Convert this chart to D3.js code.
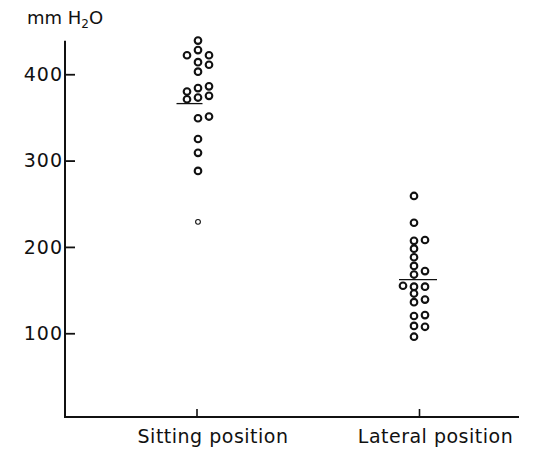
<!DOCTYPE html>
<html>
<head>
<meta charset="utf-8">
<script src="https://cdn.jsdelivr.net/npm/d3@7"></script>
<style>
  html, body { margin: 0; padding: 0; background: #fff; }
  svg { display: block; }
  text { font-family: "DejaVu Sans", sans-serif; fill: #111; }
</style>
</head>
<body>
<svg id="chart" width="533" height="451"></svg>
<script>
// ---- data (mm H2O) ----
const categories = ["Sitting position", "Lateral position"];
const yTicks = [100, 200, 300, 400];
const sittingValues = [439, 428, 422, 422, 414, 411, 403, 386, 384, 380, 375, 373, 371, 351, 349, 325, 309, 288, 229];
const sittingCols   = [0, 0, -1, 1, 0, 1, 0, 1, 0, -1, 1, 0, -1, 1, 0, 0, 0, 0, 0];
const lateralValues = [259, 228, 208, 207, 198, 188, 178, 172, 168, 155, 154, 154, 146, 139, 136, 121, 120, 108.5, 107.5, 96];
const lateralCols   = [0, 0, 1, 0, 0, 0, 0, 1, 0, -1, 0, 1, 0, 1, 0, 1, 0, 0, 1, 0];
const means = [366, 162];

const svg = d3.select("#chart");
const axisX = 65, axisY = 417;

const y = d3.scaleLinear().domain([3, 440]).range([axisY, 39.7]);
const x = d3.scalePoint().domain(categories).range([196.5, 419]);
const col = d3.scaleLinear().domain([-1, 1]).range([-11, 11]);
const groupShift = { "Sitting position": 1.5, "Lateral position": -5 };

// y axis
const gy = svg.append("g").attr("transform", `translate(${axisX},0)`)
  .call(d3.axisLeft(y).tickValues(yTicks).tickSizeInner(-10).tickSizeOuter(0).tickPadding(2));
gy.select(".domain").remove();
gy.selectAll(".tick line").attr("stroke", "#111").attr("stroke-width", 1.8);
gy.selectAll(".tick text").attr("font-size", 19).attr("letter-spacing", 1).attr("fill", "#111");
svg.append("line").attr("x1", axisX).attr("x2", axisX).attr("y1", y(440) + 1).attr("y2", axisY + 1)
  .attr("stroke", "#111").attr("stroke-width", 2);

// x axis
const gx = svg.append("g").attr("transform", `translate(0,${axisY})`)
  .call(d3.axisBottom(x).tickSizeInner(-8).tickSizeOuter(0));
gx.select(".domain").remove();
gx.selectAll(".tick line").attr("stroke", "#111").attr("stroke-width", 1.6);
gx.selectAll(".tick text").attr("font-size", 19).attr("letter-spacing", 0.5)
  .attr("fill", "#111").attr("dy", 0).attr("y", 26).attr("x", 16);
svg.append("line").attr("x1", axisX).attr("x2", 519).attr("y1", axisY).attr("y2", axisY)
  .attr("stroke", "#111").attr("stroke-width", 2);

// y unit label
const unit = svg.append("text").attr("x", 27).attr("y", 24).attr("font-size", 18);
unit.append("tspan").text("mm H");
unit.append("tspan").attr("font-size", 12).attr("dy", 4).text("2");
unit.append("tspan").attr("dy", -4).text("O");

// points
const groups = [
  { cat: categories[0], vals: sittingValues, cols: sittingCols },
  { cat: categories[1], vals: lateralValues, cols: lateralCols }
];
groups.forEach(g => {
  const pts = g.vals.map((v, i) => ({ v, c: g.cols[i] }));
  svg.append("g").selectAll("circle").data(pts).join("circle")
    .attr("cx", d => x(g.cat) + groupShift[g.cat] + col(d.c))
    .attr("cy", d => y(d.v))
    .attr("r", d => d.v < 240 && g.cat === categories[0] ? 2.4 : 3.3)
    .attr("fill", "#fff")
    .attr("stroke", "#111")
    .attr("stroke-width", d => d.v < 240 && g.cat === categories[0] ? 1.1 : 2.1);
});

// mean lines
const meanHalf = [{ l: -20, r: 6 }, { l: -20, r: 18 }];
categories.forEach((c, i) => {
  svg.append("line")
    .attr("x1", x(c) + meanHalf[i].l).attr("x2", x(c) + meanHalf[i].r)
    .attr("y1", y(means[i])).attr("y2", y(means[i]))
    .attr("stroke", "#111").attr("stroke-width", 1.3);
});
</script>
</body>
</html>
